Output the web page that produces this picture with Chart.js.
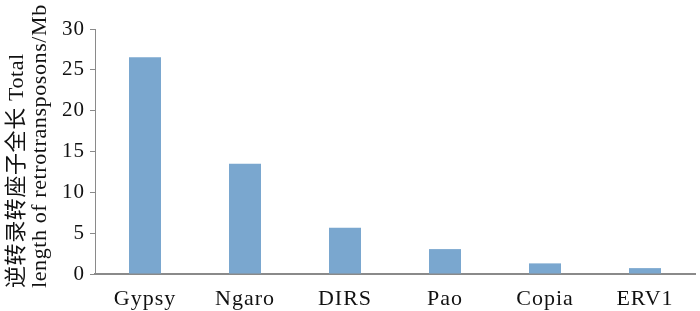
<!DOCTYPE html>
<html>
<head>
<meta charset="utf-8">
<script src="https://cdn.jsdelivr.net/npm/chart.js@4/dist/chart.umd.min.js"></script>
<style>
  html, body { margin: 0; padding: 0; background: #ffffff; }
  #wrap { width: 700px; height: 311px; }
</style>
</head>
<body>
<div id="wrap"><canvas id="chart"></canvas></div>
<script>
const categories = ['Gypsy', 'Ngaro', 'DIRS', 'Pao', 'Copia', 'ERV1'];
const lengthMb = [26.55, 13.5, 5.65, 3.05, 1.3, 0.72];
const yTicks = [0, 5, 10, 15, 20, 25, 30];
const yTitleLines = ['逆转录转座子全长 Total', 'length of retrotransposons/Mb'];

const fontFamily = '"Liberation Serif", "Times New Roman", "Noto Sans CJK SC", serif';
const axisGrey = '#8a8a8a';

// the source typesetting spaces its letters a little
const spacingPlugin = {
  id: 'spacing',
  beforeDraw(chart) { chart.ctx.letterSpacing = '1px'; },
  afterDraw(chart) { chart.ctx.letterSpacing = '0px'; }
};

// rotated two-line axis title, both lines starting from the same baseline point
const yTitlePlugin = {
  id: 'yTitle',
  afterDraw(chart) {
    const ctx = chart.ctx;
    ctx.save();
    ctx.fillStyle = '#111111';
    ctx.font = '22px ' + fontFamily;
    ctx.letterSpacing = '0.6px';
    ctx.textAlign = 'left';
    ctx.textBaseline = 'middle';
    const columns = [17, 40];
    yTitleLines.forEach((line, i) => {
      ctx.save();
      ctx.translate(columns[i], 288);
      ctx.rotate(-Math.PI / 2);
      ctx.fillText(line, 0, 0);
      ctx.restore();
    });
    ctx.restore();
  }
};

new Chart(document.getElementById('chart'), {
  type: 'bar',
  data: {
    labels: categories,
    datasets: [{
      data: lengthMb,
      backgroundColor: '#7aa7cf',
      borderWidth: 0,
      categoryPercentage: 1,
      barPercentage: 0.32
    }]
  },
  options: {
    responsive: true,
    maintainAspectRatio: false,
    animation: false,
    layout: { padding: { top: 29, right: 5, left: 0, bottom: 0 } },
    plugins: {
      legend: { display: false },
      tooltip: { enabled: false }
    },
    scales: {
      x: {
        offset: true,
        grid: { display: false },
        border: { display: true, color: axisGrey, width: 2 },
        ticks: { color: '#111111', font: { family: fontFamily, size: 22 }, padding: 4, maxRotation: 0 },
        afterFit(scale) { scale.height = 37; }
      },
      y: {
        min: 0,
        max: 30,
        afterBuildTicks(scale) { scale.ticks = yTicks.map(v => ({ value: v })); },
        grid: { drawOnChartArea: false, drawTicks: true, tickLength: 5, color: axisGrey, lineWidth: 1 },
        border: { display: true, color: axisGrey, width: 1 },
        ticks: { color: '#111111', font: { family: fontFamily, size: 21 }, padding: 5 },
        afterFit(scale) { scale.width = 95; }
      }
    }
  },
  plugins: [spacingPlugin, yTitlePlugin]
});
</script>
</body>
</html>
